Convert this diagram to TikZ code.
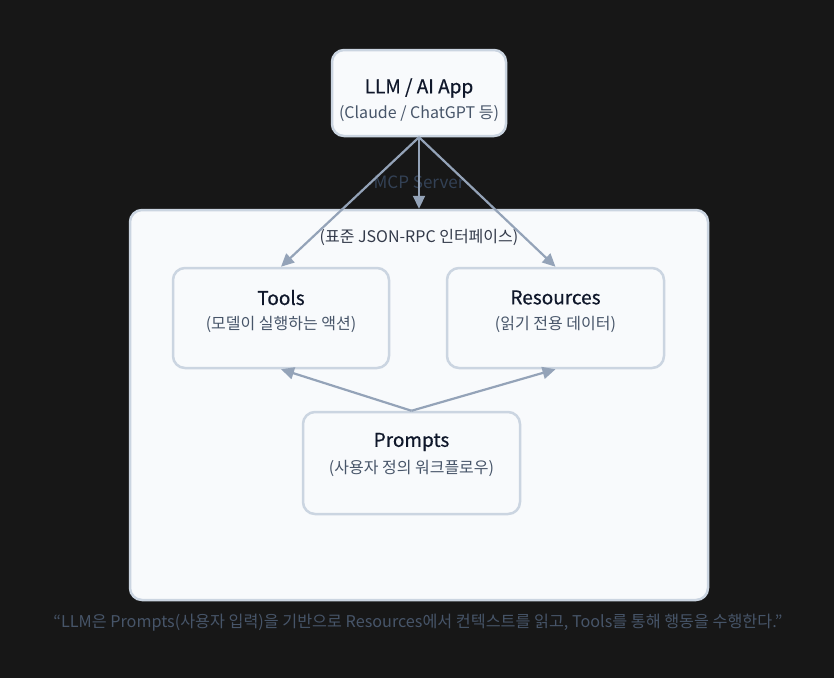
\documentclass[tikz,border=0pt]{standalone}
\usepackage{fontspec}
\setmainfont{Noto Sans CJK KR}
\newfontfamily\titlefont[FakeBold=0.6]{Noto Sans CJK KR}
\usetikzlibrary{arrows.meta,positioning}
\definecolor{bgdark}{HTML}{171717}
\definecolor{boxfill}{HTML}{F8FAFC}
\definecolor{boxline}{HTML}{CBD5E1}
\definecolor{arrowc}{HTML}{94A3B8}
\definecolor{titlec}{HTML}{0F172A}
\definecolor{subc}{HTML}{475569}
\definecolor{serverc}{HTML}{334155}
\tikzset{
  boxstyle/.style={draw=boxline, fill=boxfill, line width=2.5pt, rounded corners=12pt, inner sep=0pt},
  titletext/.style={text=titlec, font=\titlefont\fontsize{19}{22}\selectfont, inner sep=0pt},
  subtext/.style={text=subc, font=\fontsize{16}{19}\selectfont, inner sep=0pt},
  conn/.style={draw=arrowc, line width=2.2pt, -{Triangle[length=13pt,width=12pt]}},
}
\begin{document}
\begin{tikzpicture}[x=1pt,y=-1pt]
\fill[bgdark] (0,0) rectangle (834,678);
\useasboundingbox (0,0) rectangle (834,678);
% container
\node[boxstyle, minimum width=578pt, minimum height=390pt] (server) at (419,405) {};
\node[text=serverc, font=\fontsize{17}{20}\selectfont, inner sep=0pt] (serverlbl) at (419,182) {MCP Server};
\node[text=titlec!85!white, font=\fontsize{16}{19}\selectfont, inner sep=0pt] (serversub) at (419,237) {(표준 JSON-RPC 인터페이스)};
% LLM
\node[boxstyle, minimum width=174pt, minimum height=86pt] (llm) at (419,93) {};
\node[titletext] (llmt) at (419,88) {LLM / AI App};
\node[subtext] (llms) at (419,114) {(Claude / ChatGPT 등)};
% Tools
\node[boxstyle, minimum width=216pt, minimum height=100pt] (tools) at (281,318) {};
\node[titletext] (toolst) at (281,297.5) {Tools};
\node[subtext] (toolss) at (281,324) {(모델이 실행하는 액션)};
% Resources
\node[boxstyle, minimum width=217pt, minimum height=100pt] (res) at (555.5,318) {};
\node[titletext] (rest) at (555.5,297.5) {Resources};
\node[subtext] (ress) at (555.5,324) {(읽기 전용 데이터)};
% Prompts
\node[boxstyle, minimum width=217pt, minimum height=102pt] (prm) at (411.5,463) {};
\node[titletext] (prmt) at (411.5,442) {Prompts};
\node[subtext] (prms) at (411.5,468) {(사용자 정의 워크플로우)};
% connectors
\draw[conn] (llm.south) -- (tools.north);
\draw[conn] (llm.south) -- (server.north);
\draw[conn] (llm.south) -- (res.north);
\draw[conn] (prm.north) -- (tools.south);
\draw[conn] (prm.north) -- (res.south);
% caption
\node[text=subc, font=\fontsize{16.2}{19}\selectfont, inner sep=0pt] (caption) at (418,623) {“LLM은 Prompts(사용자 입력)을 기반으로 Resources에서 컨텍스트를 읽고, Tools를 통해 행동을 수행한다.”};
\end{tikzpicture}
\end{document}
